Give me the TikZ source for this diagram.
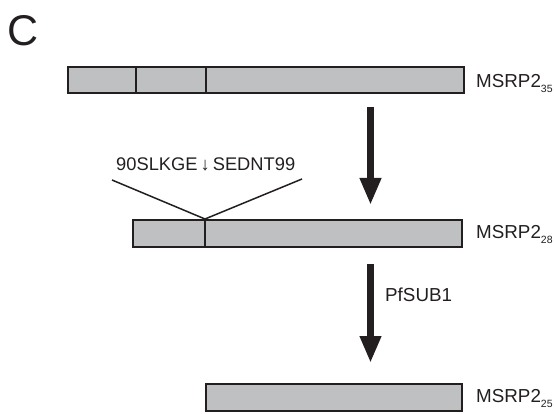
\documentclass[tikz,border=0pt]{standalone}
\usepackage{fontspec}
\setmainfont{Liberation Sans}
\usetikzlibrary{arrows.meta}
\definecolor{bargray}{RGB}{191,192,194}
\definecolor{ink}{RGB}{35,31,32}
\tikzset{
  bar/.style={draw=ink, fill=bargray, line width=2pt, inner sep=0pt, rectangle},
  divider/.style={draw=ink, line width=2pt},
  bigarrow/.style={draw=ink, line width=7pt, -{Triangle[width=20pt,length=27pt]}},
  vline/.style={draw=ink, line width=1.5pt},
  lbl/.style={inner sep=0pt, anchor=base west, font=\fontsize{18.8}{21}\selectfont, text=ink},
}
\newcommand{\subs}[1]{{\fontsize{10.5}{10.5}\selectfont\raisebox{-5pt}{#1}}}
\begin{document}
\begin{tikzpicture}[x=1pt,y=-1pt]
\useasboundingbox (0,0) rectangle (554,414);
% panel letter
\node[inner sep=0pt, anchor=base west, font=\fontsize{43}{45}\selectfont, text=ink] (panel) at (7,46) {C};
% bar 1
\node[bar, minimum width=396pt, minimum height=26pt] (b1) at (266,80) {};
\draw[divider] (b1.north west -| 136,0) -- (b1.south west -| 136,0);
\draw[divider] (b1.north west -| 206,0) -- (b1.south west -| 206,0);
\node[lbl] (l1) at (476,88) {MSRP2\subs{35}};
% bar 2
\node[bar, minimum width=329pt, minimum height=27pt] (b2) at (297.5,233.5) {};
\coordinate (cut) at (b2.north west -| 205,0);
\draw[divider] (cut) -- (b2.south west -| 205,0);
\node[lbl] (l2) at (476,238.5) {MSRP2\subs{28}};
% bar 3
\node[bar, minimum width=256pt, minimum height=27pt] (b3) at (334,397.5) {};
\node[lbl] (l3) at (476,402.5) {MSRP2\subs{25}};
% cleavage site
\node[lbl, font=\fontsize{18.3}{21}\selectfont] (site) at (116,171) {90SLKGE\,↓\,SEDNT99};
\coordinate (vl) at (112,180);
\coordinate (vr) at (302,179);
\draw[vline] (vl) -- (cut) -- (vr);
% arrows
\coordinate (a1s) at (370.5,107);
\coordinate (a1e) at (370.5,205);
\draw[bigarrow] (a1s) -- (a1e);
\coordinate (a2s) at (370.5,264);
\coordinate (a2e) at (370.5,363);
\draw[bigarrow] (a2s) -- (a2e);
\node[lbl] (enz) at (385,301) {PfSUB1};
\end{tikzpicture}
\end{document}
